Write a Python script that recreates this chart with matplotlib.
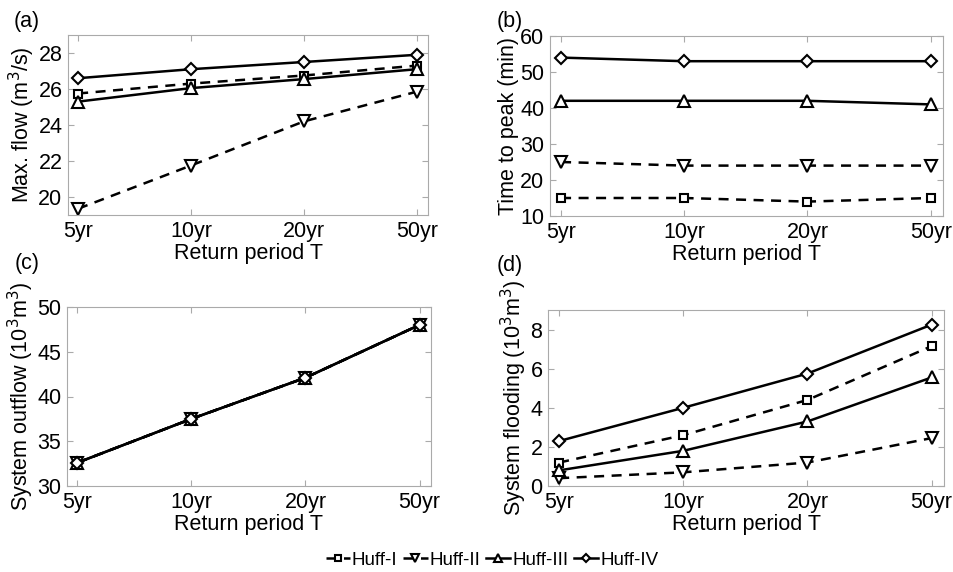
import matplotlib.pyplot as plt

plt.rcParams['font.family'] = ['Liberation Sans', 'DejaVu Sans']

periods = ['5yr', '10yr', '20yr', '50yr']
series_names = ['Huff-I', 'Huff-II', 'Huff-III', 'Huff-IV']

# (a) max. flow (m3/s)
max_flow = {
    'Huff-I': [25.75, 26.3, 26.75, 27.3],
    'Huff-II': [19.35, 21.75, 24.2, 25.85],
    'Huff-III': [25.3, 26.05, 26.55, 27.1],
    'Huff-IV': [26.6, 27.1, 27.5, 27.9],
}
# (b) time to peak (min)
time_to_peak = {
    'Huff-I': [15, 15, 14, 15],
    'Huff-II': [25, 24, 24, 24],
    'Huff-III': [42, 42, 42, 41],
    'Huff-IV': [54, 53, 53, 53],
}
# (c) system outflow (10^3 m3)
outflow = {
    'Huff-I': [32.6, 37.5, 42.1, 48.0],
    'Huff-II': [32.6, 37.5, 42.1, 48.0],
    'Huff-III': [32.6, 37.5, 42.1, 48.0],
    'Huff-IV': [32.6, 37.5, 42.1, 48.0],
}
# (d) system flooding (10^3 m3)
flooding = {
    'Huff-I': [1.2, 2.6, 4.4, 7.15],
    'Huff-II': [0.4, 0.7, 1.2, 2.45],
    'Huff-III': [0.8, 1.8, 3.3, 5.55],
    'Huff-IV': [2.3, 4.0, 5.75, 8.25],
}

styles = {
    'Huff-I': dict(ls='--', marker='s', ms=5.5),
    'Huff-II': dict(ls='--', marker='v', ms=8),
    'Huff-III': dict(ls='-', marker='^', ms=8),
    'Huff-IV': dict(ls='-', marker='D', ms=6.5),
}

fig = plt.figure(figsize=(9.54, 5.72), dpi=100)
W, H = 954, 572
boxes = [(68, 35, 428, 215), (550, 36, 943, 216), (67, 307, 431, 486), (548, 310, 944, 486)]
axs = [fig.add_axes([l / W, 1 - b / H, (r - l) / W, (b - t) / H]) for l, t, r, b in boxes]

panels = [
    (max_flow, 'Max. flow (m$^3$/s)', (19, 29), [20, 22, 24, 26, 28], '(a)'),
    (time_to_peak, 'Time to peak (min)', (10, 60), [10, 20, 30, 40, 50, 60], '(b)'),
    (outflow, 'System outflow (10$^3$m$^3$)', (30, 50), [30, 35, 40, 45, 50], '(c)'),
    (flooding, 'System flooding (10$^3$m$^3$)', (0, 9), [0, 2, 4, 6, 8], '(d)'),
]
label_pos = [(27, 21), (510, 21), (27, 264), (510, 265)]

x = [1, 2, 3, 4]
for ax, (data, ylab, ylim, yt, tag), (lx, ly) in zip(axs, panels, label_pos):
    for name in series_names:
        st = styles[name]
        ax.plot(x, data[name], color='black', lw=1.8, ls=st['ls'], marker=st['marker'],
                ms=st['ms'], mfc='white', mec='black', mew=1.5, label=name,
                dashes=(4, 3) if st['ls'] == '--' else (None, None))
    ax.set_xlim(0.91, 4.1)
    ax.set_ylim(*ylim)
    ax.set_yticks(yt)
    ax.set_xticks(x)
    ax.set_xticklabels(periods)
    ax.tick_params(direction='in', top=True, right=True, labelsize=15.5, color='#aaaaaa',
                   length=4, pad=4)
    for sp in ax.spines.values():
        sp.set_color('#aaaaaa')
    ax.set_xlabel('Return period T', fontsize=15.5, labelpad=1)
    ax.set_ylabel(ylab, fontsize=15.5, labelpad=1)
    fig.text(lx / W, 1 - ly / H, tag, fontsize=15.5, ha='center', va='center')

handles, labels = axs[0].get_legend_handles_labels()
fig.legend(handles, labels, loc='center', bbox_to_anchor=(492 / W, 1 - 560 / H), ncol=4,
           frameon=False, fontsize=13.5, handlelength=1.3, handletextpad=0.1,
           columnspacing=0.3, markerscale=0.7)

fig.savefig('out.png', dpi=100)
